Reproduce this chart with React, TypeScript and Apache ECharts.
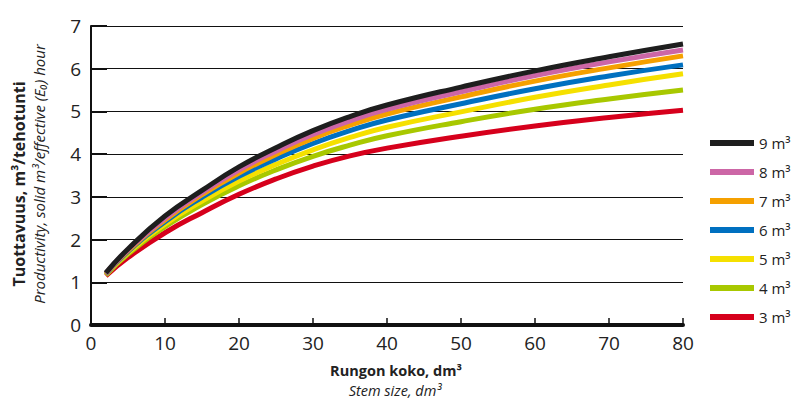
import React, { useEffect, useRef } from "react";
import * as echarts from "echarts";

const xValues = [2, 5, 10, 15, 20, 25, 30, 35, 40, 50, 60, 70, 80];
const seriesNames = ["3 m³", "4 m³", "5 m³", "6 m³", "7 m³", "8 m³", "9 m³"];
const seriesColors = ["#d6001c", "#a8c800", "#f5e000", "#0070c0", "#f5a000", "#cc66a6", "#1e1e1e"];
const v3 = [1.15, 1.58, 2.16, 2.63, 3.06, 3.42, 3.72, 3.96, 4.14, 4.42, 4.66, 4.86, 5.03];
const v4 = [1.17, 1.66, 2.3, 2.82, 3.26, 3.63, 3.95, 4.21, 4.43, 4.76, 5.05, 5.29, 5.5];
const v5 = [1.18, 1.69, 2.36, 2.9, 3.37, 3.76, 4.1, 4.39, 4.63, 4.99, 5.33, 5.62, 5.88];
const v6 = [1.19, 1.72, 2.42, 2.99, 3.48, 3.89, 4.25, 4.55, 4.8, 5.18, 5.53, 5.83, 6.09];
const v7 = [1.2, 1.74, 2.46, 3.05, 3.56, 3.99, 4.37, 4.68, 4.94, 5.34, 5.71, 6.02, 6.3];
const v8 = [1.21, 1.76, 2.5, 3.1, 3.63, 4.07, 4.46, 4.78, 5.05, 5.46, 5.84, 6.16, 6.44];
const v9 = [1.22, 1.78, 2.55, 3.15, 3.7, 4.15, 4.55, 4.88, 5.15, 5.57, 5.95, 6.28, 6.58];
const allValues = [v3, v4, v5, v6, v7, v8, v9];

const FONT = "'Open Sans', 'Noto Sans', sans-serif";

export default function App() {
  const ref = useRef<HTMLDivElement>(null);
  useEffect(() => {
    document.body.style.margin = "0";
    if (!ref.current) return;
    const chart = echarts.init(ref.current, null, { renderer: "svg" });
    const series = allValues.map((vals, i) => ({
      name: seriesNames[i],
      type: "line",
      smooth: true,
      symbol: "none",
      data: vals.map((v, j) => [xValues[j], v]),
      lineStyle: { color: seriesColors[i], width: 5 },
      itemStyle: { color: seriesColors[i] },
    }));
    chart.setOption({
      animation: false,
      backgroundColor: "#ffffff",
      grid: { left: 91, right: 117, top: 26, bottom: 76 },
      legend: {
        orient: "vertical",
        left: 705,
        top: 130,
        icon: "rect",
        itemWidth: 44,
        itemHeight: 6,
        itemGap: 13,
        data: [...seriesNames].reverse(),
        textStyle: { fontFamily: FONT, fontSize: 15, color: "#222", lineHeight: 16 },
      },
      xAxis: {
        type: "value",
        min: 0,
        max: 80,
        interval: 10,
        axisLine: { show: true, lineStyle: { color: "#111", width: 4 } },
        axisTick: { show: true, inside: true, length: 7, lineStyle: { color: "#111", width: 1.5 } },
        axisLabel: { fontFamily: FONT, fontSize: 19, color: "#222", margin: 8 },
        splitLine: { show: false },
      },
      yAxis: {
        type: "value",
        min: 0,
        max: 7,
        interval: 1,
        axisLine: { show: true, lineStyle: { color: "#111", width: 2 } },
        axisTick: { show: true, inside: true, length: 16, lineStyle: { color: "#111", width: 2 } },
        axisLabel: { fontFamily: FONT, fontSize: 19, color: "#222", margin: 10 },
        splitLine: { show: true, lineStyle: { color: "#111", width: 1 } },
      },
      series,
      graphic: [
        {
          type: "text",
          x: 19,
          y: 184,
          rotation: Math.PI / 2,
          style: {
            text: "Tuottavuus, m³/tehotunti",
            font: `bold 16px ${FONT}`,
            fill: "#222",
            align: "center",
            verticalAlign: "middle",
          },
        },
        {
          type: "text",
          x: 39,
          y: 174,
          rotation: Math.PI / 2,
          style: {
            text: "Productivity, solid m³/effective (E₀) hour",
            font: `italic 15px ${FONT}`,
            fill: "#222",
            align: "center",
            verticalAlign: "middle",
          },
        },
        {
          type: "text",
          x: 396,
          y: 370,
          style: {
            text: "Rungon koko, dm³",
            font: `bold 14.5px ${FONT}`,
            fill: "#222",
            align: "center",
            verticalAlign: "middle",
          },
        },
        {
          type: "text",
          x: 395,
          y: 390,
          style: {
            text: "Stem size, dm³",
            font: `italic 14.5px ${FONT}`,
            fill: "#222",
            align: "center",
            verticalAlign: "middle",
          },
        },
      ],
    });
    return () => chart.dispose();
  }, []);
  return <div ref={ref} style={{ width: 800, height: 401 }} />;
}
